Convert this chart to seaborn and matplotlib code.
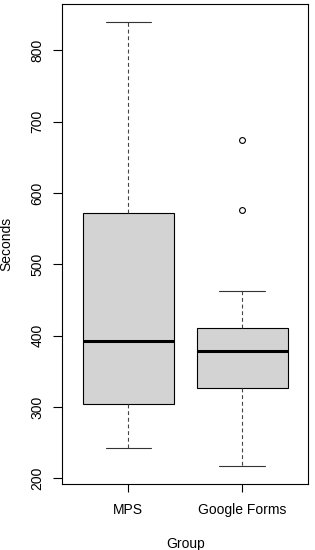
import matplotlib
matplotlib.use("Agg")
import matplotlib.pyplot as plt
import pandas as pd
import seaborn as sns

# Five-number summaries (min, Q1, median, Q3, max)
groups = ["MPS", "Google Forms"]
mps_summary = [243, 304, 393, 572, 840]
gforms_summary = [217, 326, 378, 411, 462]
gforms_outliers = [576, 674]
y_ticks = [200, 300, 400, 500, 600, 700, 800]

sns.set_style("ticks")
plt.rcParams["font.family"] = ["Liberation Sans", "DejaVu Sans"]
plt.rcParams["text.color"] = "black"
plt.rcParams["axes.labelcolor"] = "black"
plt.rcParams["xtick.color"] = "black"
plt.rcParams["ytick.color"] = "black"

box_df = pd.DataFrame({
    "Group": [groups[0]] * len(mps_summary) + [groups[1]] * len(gforms_summary),
    "Seconds": mps_summary + gforms_summary,
})
out_df = pd.DataFrame({"Group": [groups[1]] * len(gforms_outliers),
                       "Seconds": gforms_outliers})

fig = plt.figure(figsize=(3.15, 5.5), dpi=100)
ax = fig.add_axes([0.198, 0.12, 0.78, 0.873])

sns.boxplot(data=box_df, x="Group", y="Seconds", order=groups, ax=ax,
            whis=(0, 100), width=0.8, color="#d3d3d3", linecolor="black",
            saturation=1, linewidth=0.8, showfliers=False,
            medianprops={"linewidth": 2.2, "color": "black"},
            whiskerprops={"linestyle": (0, (3.5, 2.5)), "color": "#444444"},
            capprops={"color": "#333333"})
sns.stripplot(data=out_df, x="Group", y="Seconds", order=groups, ax=ax,
              jitter=False, size=4.2, color="white", edgecolor="black",
              linewidth=0.8)

ax.set_xlim(-0.58, 1.58)
ax.set_ylim(192, 865)
ax.set_yticks(y_ticks)
ax.set_yticklabels([str(t) for t in y_ticks], rotation=90, va="center")
ax.tick_params(axis="y", length=6.5, width=0.8, pad=6.5, labelsize=10)
ax.tick_params(axis="x", length=6, width=0.8, pad=8, labelsize=10)
for s in ax.spines.values():
    s.set_visible(True)
    s.set_linewidth(0.8)
    s.set_color("black")
ax.set_xlabel("Group", fontsize=10, labelpad=14)
ax.set_ylabel("Seconds", fontsize=10, labelpad=12)

fig.savefig("out.png", dpi=100)
